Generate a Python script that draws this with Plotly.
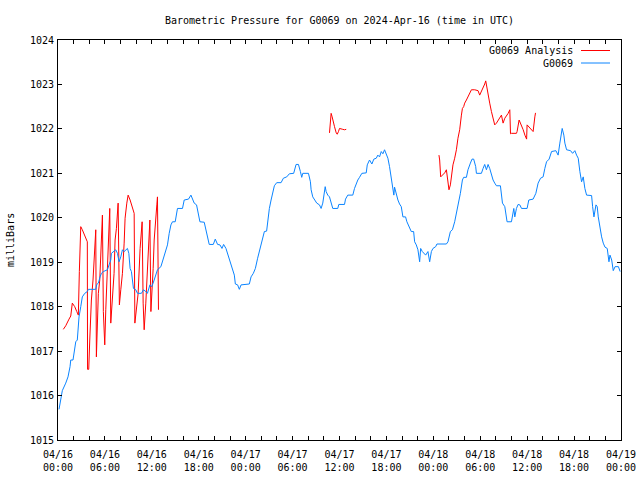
import datetime as dt
import plotly.graph_objects as go

BASE = dt.datetime(2024, 4, 16, 0, 0)

# G0069 observations: hours since 2024-04-16 00:00 UTC, pressure (mbar)
obs_hours = [
    0.13, 0.42, 0.55, 0.99, 1.28, 1.54, 1.63, 1.92, 2.14, 2.27, 2.47, 2.56, 2.69, 2.91, 3.11, 3.42,
    3.75, 3.88, 4.83, 4.96, 5.16, 5.38, 5.55, 5.80, 5.98, 6.32, 6.53, 6.75, 6.83, 7.17, 7.39, 7.60,
    7.81, 8.03, 8.24, 8.46, 8.67, 8.88, 9.06, 9.22, 9.39, 9.65, 9.95, 10.16, 10.67, 10.93, 11.23, 11.44,
    11.75, 12.00, 12.30, 12.72, 13.16, 13.36, 13.58, 13.80, 14.00, 14.22, 14.44, 14.64, 14.99, 15.28,
    15.92, 16.14, 16.69, 17.00, 17.20, 17.42, 17.72, 17.94, 18.15, 18.70, 18.92, 19.13, 19.34, 19.86,
    20.11, 20.41, 20.71, 20.97, 21.18, 21.48, 21.69, 21.91, 22.12, 22.33, 22.55, 22.68, 22.97, 23.19,
    23.41, 24.47, 24.69, 24.98, 25.24, 25.53, 25.75, 25.97, 26.17, 26.39, 26.68, 26.81, 27.03, 27.25,
    27.45, 27.67, 27.97, 28.53, 28.82, 29.25, 29.59, 30.14, 30.45, 30.75, 31.00, 31.17, 31.30, 32.03,
    32.28, 32.37, 32.58, 32.80, 33.09, 33.44, 33.65, 33.86, 33.99, 34.17, 34.29, 34.50, 34.72, 34.93,
    35.14, 35.78, 35.91, 36.64, 36.77, 37.06, 37.70, 37.92, 38.14, 38.34, 38.56, 38.86, 39.42, 39.55,
    39.84, 40.14, 40.39, 40.70, 40.90, 41.12, 41.34, 41.55, 41.76, 41.98, 42.19, 42.40, 42.62, 42.83,
    42.95, 43.04, 43.26, 43.47, 43.68, 43.90, 44.11, 44.45, 44.62, 44.88, 45.18, 45.48, 45.61, 45.82,
    46.03, 46.25, 46.38, 46.59, 46.76, 47.02, 47.31, 47.53, 47.75, 47.95, 48.30, 48.46, 49.67, 49.87,
    50.18, 50.44, 50.73, 50.95, 51.28, 51.46, 51.72, 51.88, 52.23, 52.43, 52.74, 52.95, 53.16, 53.42,
    53.51, 54.15, 54.36, 54.57, 54.79, 55.00, 55.21, 55.43, 55.64, 55.85, 56.07, 56.58, 56.71, 56.84,
    57.14, 57.35, 57.43, 57.99, 58.12, 58.29, 58.42, 58.63, 58.84, 59.06, 59.28, 59.99, 60.21, 60.76,
    61.11, 61.40, 61.71, 62.04, 62.26, 62.48, 62.81, 63.12, 63.67, 63.96, 64.18, 64.40, 64.48, 64.69,
    64.82, 65.04, 65.55, 65.81, 66.10, 66.32, 66.53, 66.74, 66.96, 67.17, 67.38, 67.60, 68.24, 68.37,
    68.54, 68.80, 68.96, 69.09, 69.31, 69.52, 69.73, 69.95, 70.24, 70.46, 70.59, 70.81, 71.01, 71.24,
    71.67, 71.89,
]
obs_mbar = [
    1015.69, 1015.97, 1016.11, 1016.28, 1016.42, 1016.65, 1016.80, 1016.80, 1017.03, 1017.21, 1017.25,
    1017.55, 1017.77, 1018.00, 1018.22, 1018.30, 1018.34, 1018.39, 1018.39, 1018.50, 1018.53, 1018.67,
    1018.75, 1018.79, 1018.81, 1018.83, 1018.94, 1019.05, 1019.20, 1019.24, 1019.28, 1019.20, 1019.01,
    1019.12, 1019.28, 1019.24, 1019.28, 1019.31, 1019.20, 1018.86, 1018.79, 1018.41, 1018.38, 1018.30,
    1018.30, 1018.38, 1018.34, 1018.30, 1018.49, 1018.45, 1018.60, 1018.83, 1018.90, 1019.01, 1019.16,
    1019.28, 1019.39, 1019.65, 1019.84, 1019.91, 1019.91, 1020.21, 1020.21, 1020.40, 1020.42, 1020.51,
    1020.44, 1020.33, 1020.29, 1020.10, 1019.91, 1019.90, 1019.73, 1019.57, 1019.40, 1019.40, 1019.52,
    1019.40, 1019.39, 1019.31, 1019.40, 1019.31, 1019.20, 1019.05, 1018.94, 1018.83, 1018.71, 1018.51,
    1018.49, 1018.39, 1018.49, 1018.51, 1018.67, 1018.75, 1018.86, 1019.09, 1019.24, 1019.35, 1019.54,
    1019.69, 1019.70, 1019.91, 1020.21, 1020.40, 1020.55, 1020.72, 1020.79, 1020.79, 1020.89, 1020.92,
    1020.99, 1021.00, 1021.20, 1021.20, 1021.04, 1020.91, 1021.00, 1021.00, 1020.81, 1020.63, 1020.47,
    1020.42, 1020.33, 1020.29, 1020.21, 1020.33, 1020.55, 1020.70, 1020.59, 1020.51, 1020.47, 1020.33,
    1020.21, 1020.21, 1020.30, 1020.30, 1020.42, 1020.51, 1020.51, 1020.66, 1020.78, 1020.85, 1020.91,
    1021.00, 1021.01, 1021.19, 1021.30, 1021.21, 1021.32, 1021.34, 1021.41, 1021.37, 1021.49, 1021.44,
    1021.53, 1021.44, 1021.34, 1021.15, 1020.92, 1020.69, 1020.51, 1020.69, 1020.51, 1020.40, 1020.31,
    1020.25, 1020.02, 1020.02, 1019.91, 1019.80, 1019.69, 1019.69, 1019.46, 1019.39, 1019.28, 1019.01,
    1019.31, 1019.24, 1019.20, 1019.16, 1019.24, 1019.01, 1019.24, 1019.31, 1019.35, 1019.41, 1019.41,
    1019.46, 1019.69, 1019.73, 1019.91, 1020.10, 1020.33, 1020.55, 1020.85, 1020.91, 1020.91, 1021.08,
    1021.23, 1021.32, 1021.32, 1021.15, 1021.00, 1021.00, 1021.11, 1021.20, 1021.08, 1021.20, 1021.11,
    1020.96, 1020.85, 1020.78, 1020.72, 1020.72, 1020.54, 1020.33, 1020.25, 1020.02, 1019.91, 1019.91,
    1020.10, 1020.21, 1020.02, 1020.21, 1020.30, 1020.29, 1020.21, 1020.21, 1020.40, 1020.42, 1020.55,
    1020.78, 1020.89, 1020.92, 1021.11, 1021.26, 1021.32, 1021.49, 1021.51, 1021.41, 1021.68, 1021.91,
    1022.01, 1021.86, 1021.68, 1021.53, 1021.51, 1021.45, 1021.51, 1021.41, 1021.34, 1021.04, 1020.81,
    1020.92, 1020.66, 1020.51, 1020.50, 1020.25, 1020.02, 1020.29, 1020.25, 1020.02, 1019.76, 1019.57,
    1019.43, 1019.34, 1019.31, 1019.01, 1019.16, 1019.05, 1018.81, 1018.90, 1018.90, 1018.79,
]

# G0069 Analysis (None marks gaps between analysis periods)
ana_hours = [
    0.68, 0.99, 1.41, 1.63, 1.83, 2.14, 2.40, 2.60, 2.73, 2.91, 3.11, 3.42, 3.68, 3.75, 3.78, 3.93,
    4.06, 4.27, 4.48, 4.70, 4.83, 4.91, 5.03, 5.16, 5.34, 5.47, 5.68, 5.80, 5.98, 6.11, 6.24, 6.41,
    6.62, 6.75, 6.96, 7.17, 7.30, 7.47, 7.69, 7.85, 8.03, 8.24, 8.46, 8.58, 8.80, 8.97, 9.22, 9.52,
    9.74, 9.83, 9.95, 10.25, 10.50, 10.67, 10.76, 10.89, 11.02, 11.23, 11.44, 11.57, 11.75, 11.88,
    12.00, 12.17, 12.30, 12.43, 12.55, 12.64, 12.72, 12.85,
    None,
    34.72, 34.85, 34.93, 35.06, 35.14, 35.36, 35.58, 35.71, 35.87, 36.00, 36.42, 36.64, 36.86,
    None,
    48.72, 48.81, 48.94, 49.23, 49.45, 49.67, 49.87, 50.00, 50.18, 50.38, 50.51, 50.73, 50.95, 51.15,
    51.37, 51.59, 51.72, 51.88, 52.01, 52.23, 52.43, 52.65, 52.87, 53.29, 53.72, 53.93, 54.15, 54.36,
    54.57, 54.70, 54.87, 55.00, 55.21, 55.43, 55.64, 55.85, 56.07, 56.50, 56.71, 56.92, 57.14, 57.57,
    57.78, 57.87, 57.99, 58.63, 58.71, 58.97, 59.28, 59.49, 59.71, 59.93, 59.99, 60.34, 60.76, 60.98,
    61.07,
]
ana_mbar = [
    1017.49, 1017.57, 1017.72, 1017.79, 1018.08, 1018.00, 1017.89, 1017.81, 1018.79, 1019.80, 1019.73,
    1019.61, 1019.50, 1019.46, 1016.59, 1016.59, 1017.25, 1018.15, 1018.60, 1019.50, 1019.73, 1016.87,
    1017.70, 1018.30, 1018.60, 1019.16, 1020.06, 1017.89, 1017.14, 1017.93, 1018.60, 1019.46, 1020.21,
    1017.63, 1018.30, 1018.75, 1019.50, 1019.76, 1020.33, 1018.04, 1018.38, 1018.75, 1019.43, 1019.99,
    1020.33, 1020.51, 1020.40, 1020.21, 1020.10, 1017.63, 1017.81, 1018.30, 1019.31, 1019.69, 1019.91,
    1018.08, 1017.48, 1018.08, 1018.83, 1019.46, 1019.95, 1017.89, 1018.22, 1018.86, 1019.50, 1019.91,
    1020.15, 1020.29, 1020.47, 1017.93,
    None,
    1021.91, 1022.13, 1022.35, 1022.27, 1022.20, 1022.05, 1021.91, 1021.88, 1021.94, 1022.01, 1021.99,
    1021.98, 1021.99,
    None,
    1021.41, 1021.30, 1020.92, 1020.96, 1021.01, 1021.08, 1020.78, 1020.63, 1020.74, 1021.00, 1021.19,
    1021.34, 1021.53, 1021.79, 1021.98, 1022.31, 1022.46, 1022.50, 1022.58, 1022.65, 1022.72, 1022.81,
    1022.88, 1022.88, 1022.86, 1022.76, 1022.84, 1022.91, 1023.01, 1023.08, 1022.88, 1022.72, 1022.58,
    1022.39, 1022.20, 1022.09, 1022.13, 1022.24, 1022.31, 1022.13, 1022.24, 1022.35, 1022.43, 1021.89,
    1021.90, 1021.90, 1021.94, 1022.20, 1022.09, 1021.98, 1021.86, 1021.77, 1022.09, 1022.01, 1021.94,
    1022.27, 1022.36,
]

tick_hours = list(range(0, 73, 2))
y_ticks = list(range(1015, 1025))
series_names = ["G0069 Analysis", "G0069"]
series_colors = ["#ff0000", "#0a84ff"]
TITLE = "Barometric Pressure for G0069 on 2024-Apr-16 (time in UTC)"
FONT = "DejaVu Sans Mono"


def to_time(h):
    return None if h is None else BASE + dt.timedelta(hours=h)


tick_vals = [to_time(h) for h in tick_hours]
tick_text = [
    (to_time(h).strftime("%m/%d") + "<br>" + to_time(h).strftime("%H:%M")) if h % 6 == 0 else ""
    for h in tick_hours
]

fig = go.Figure()
fig.add_trace(go.Scatter(
    x=[to_time(h) for h in ana_hours], y=ana_mbar, mode="lines",
    name=series_names[0], line=dict(color=series_colors[0], width=1), connectgaps=False,
))
fig.add_trace(go.Scatter(
    x=[to_time(h) for h in obs_hours], y=obs_mbar, mode="lines",
    name=series_names[1], line=dict(color=series_colors[1], width=1),
))

# legend drawn gnuplot-style: right-aligned text with sample line to its right
for i, (nm, col) in enumerate(zip(series_names, series_colors)):
    ypx = 50.5 + 12.5 * i
    yp = 1 - (ypx - 40) / 400
    fig.add_annotation(xref="paper", yref="paper", x=(574.5 - 58) / 563, y=yp,
                       text=nm, showarrow=False, xanchor="right", yanchor="middle",
                       font=dict(family=FONT, size=10, color="black"))
    fig.add_shape(type="line", xref="paper", yref="paper",
                  x0=(581 - 58) / 563, x1=(610 - 58) / 563, y0=yp, y1=yp,
                  line=dict(color=col, width=1))

fig.add_annotation(xref="paper", yref="paper", x=0, xshift=-48, y=0.5,
                   text="milliBars", textangle=-90, showarrow=False,
                   xanchor="center", yanchor="middle",
                   font=dict(family=FONT, size=10, color="black"))

fig.update_layout(
    width=640, height=480,
    margin=dict(l=58, r=19, t=40, b=40, autoexpand=False),
    paper_bgcolor="white", plot_bgcolor="white",
    showlegend=False,
    font=dict(family=FONT, size=10, color="black"),
    title=dict(text=TITLE, x=0.5, xref="paper", y=1 - 20 / 480, yanchor="middle",
               automargin=False, font=dict(family=FONT, size=10, color="black")),
)
fig.update_xaxes(
    type="date", range=[BASE, BASE + dt.timedelta(hours=72)], automargin=False,
    tickmode="array", tickvals=tick_vals, ticktext=tick_text,
    ticks="inside", ticklen=4, tickcolor="black", tickwidth=1,
    showline=True, linecolor="black", linewidth=1, mirror="ticks",
    showgrid=False, zeroline=False, ticklabelstandoff=5,
    tickfont=dict(family=FONT, size=10, color="black"),
)
fig.update_yaxes(
    range=[1015, 1024], tickmode="array", tickvals=y_ticks, automargin=False,
    ticks="inside", ticklen=4, tickcolor="black", tickwidth=1,
    showline=True, linecolor="black", linewidth=1, mirror="ticks",
    showgrid=False, zeroline=False, ticklabelstandoff=1,
    tickfont=dict(family=FONT, size=10, color="black"),
)

fig.write_html("out.html", config={"displayModeBar": False},
               post_script="document.body.style.margin='0';")
